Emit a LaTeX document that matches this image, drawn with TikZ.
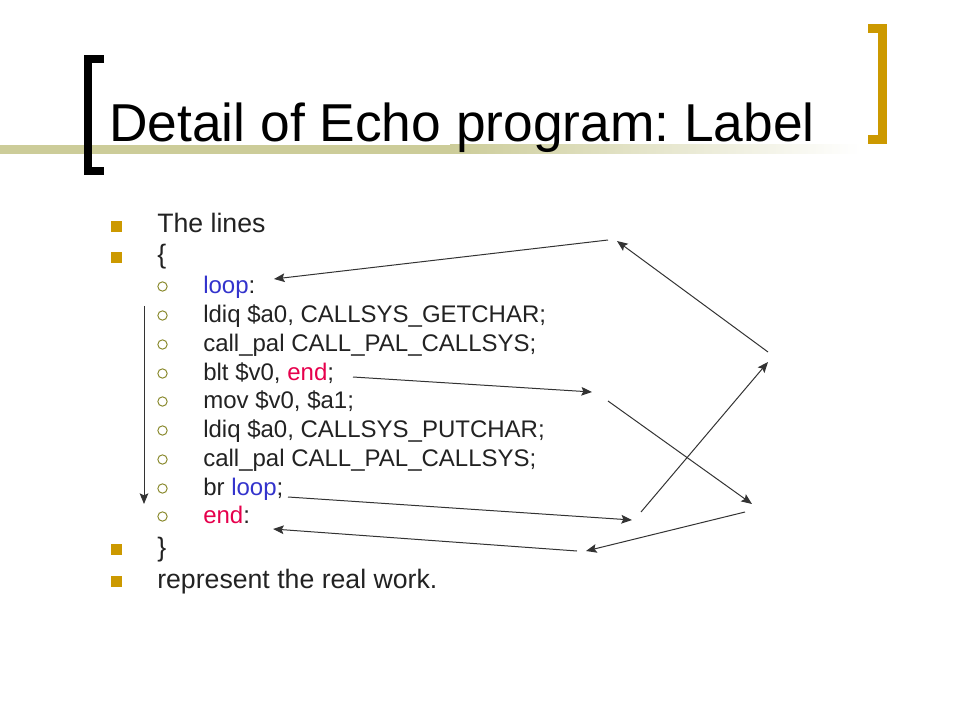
\documentclass[tikz,border=0pt]{standalone}
\usepackage{fontspec}
\setmainfont{Liberation Sans}
\usepackage{xcolor}
\usetikzlibrary{arrows.meta}
\definecolor{bargold}{RGB}{204,153,0}
\definecolor{barolive}{RGB}{204,204,153}
\definecolor{ringolive}{RGB}{140,140,50}
\definecolor{loopblue}{RGB}{51,51,204}
\definecolor{endpink}{RGB}{230,0,76}
\definecolor{bodygray}{RGB}{34,34,34}
\frenchspacing

\begin{document}
\begin{tikzpicture}[x=0.75pt, y=-0.75pt,
				>={Stealth[length=8pt,width=6.5pt,inset=1.5pt]},
				every node/.style={inner sep=0pt, anchor=base west},
				title/.style={font=\fontsize{40}{48}\selectfont},
				lvlone/.style={font=\fontsize{20}{24}\selectfont, text=bodygray},
				lvltwo/.style={font=\fontsize{18}{21.6}\selectfont, text=bodygray},
				sqbullet/.style={anchor=center, fill=bargold, minimum size=8.25pt},
				ringbullet/.style={anchor=center, circle, draw=ringolive, line width=0.75pt, minimum size=7pt},
				jump/.style={->, draw=black!80, line width=0.75pt}]
				\useasboundingbox (0,0) rectangle (960,720);
				% title bar
				\fill[barolive] (0,145) rectangle (450,154);
				\shade[left color=barolive, right color=white] (450,145) rectangle (860,154);
				\draw[line width=6pt] (104,59) -- (88,59) -- (88,171) -- (104,171);
				\draw[bargold, line width=6.75pt] (868,28.5) -- (882.5,28.5) -- (882.5,139.5) -- (868,139.5);
				\node[title] (title) at (109,142) {Detail of Echo program: Label};
				% first level
				\node[sqbullet] (s1) at (116,227) {};
				\node[lvlone] (lines) at (157,233) {The lines};
				\node[sqbullet] (s2) at (116,258) {};
				\node[lvlone] (open) at (157,264) {\{};
				% code lines
				\node[ringbullet] (r1) at (162.5,286.5) {};
				\node[lvltwo] (loop) at (203,293) {\textcolor{loopblue}{loop}:};
				\node[ringbullet] (r2) at (162.5,315.5) {};
				\node[lvltwo] (getchar) at (203,322) {ldiq \$a0, CALLSYS\_GETCHAR;};
				\node[ringbullet] (r3) at (162.5,344.5) {};
				\node[lvltwo] (callone) at (203,351) {call\_pal CALL\_PAL\_CALLSYS;};
				\node[ringbullet] (r4) at (162.5,373.5) {};
				\node[lvltwo] (blt) at (203,380) {blt \$v0, \textcolor{endpink}{end};};
				\node[ringbullet] (r5) at (162.5,401.5) {};
				\node[lvltwo] (mov) at (203,408) {mov \$v0, \$a1;};
				\node[ringbullet] (r6) at (162.5,430.5) {};
				\node[lvltwo] (putchar) at (203,437) {ldiq \$a0, CALLSYS\_PUTCHAR;};
				\node[ringbullet] (r7) at (162.5,459.5) {};
				\node[lvltwo] (calltwo) at (203,466) {call\_pal CALL\_PAL\_CALLSYS;};
				\node[ringbullet] (r8) at (162.5,488.5) {};
				\node[lvltwo] (br) at (203,495) {br \textcolor{loopblue}{loop};};
				\node[ringbullet] (r9) at (162.5,516.5) {};
				\node[lvltwo] (endlabel) at (203,523) {\textcolor{endpink}{end}:};
				\node[sqbullet] (s3) at (116,549.5) {};
				\node[lvlone] (close) at (157,556) {\}};
				\node[sqbullet] (s4) at (116,581.5) {};
				\node[lvlone] (work) at (157,588) {represent the real work.};
				% arrow ends
				\coordinate (toploop) at (608,240);
				\coordinate (loopin) at (274,279);
				\coordinate (rightup) at (768,352);
				\coordinate (topin) at (617,241);
				\coordinate (bltout) at (353,377);
				\coordinate (midin) at (592,392);
				\coordinate (midout) at (608,401);
				\coordinate (rightin) at (752,504);
				\coordinate (brout) at (288,497);
				\coordinate (lowin) at (632,520);
				\coordinate (lowout) at (641,512);
				\coordinate (upin) at (768,362);
				\coordinate (rightlow) at (745,512);
				\coordinate (botin) at (586,551);
				\coordinate (botout) at (577,551);
				\coordinate (endin) at (273,529);
				\coordinate (downtop) at (144,306);
				\coordinate (downin) at (144,504);
				\draw[jump] (toploop) -- (loopin);
				\draw[jump] (rightup) -- (topin);
				\draw[jump] (bltout) -- (midin);
				\draw[jump] (midout) -- (rightin);
				\draw[jump] (brout) -- (lowin);
				\draw[jump] (lowout) -- (upin);
				\draw[jump] (rightlow) -- (botin);
				\draw[jump] (botout) -- (endin);
				\draw[jump] (downtop) -- (downin);
			\end{tikzpicture}
\end{document}
